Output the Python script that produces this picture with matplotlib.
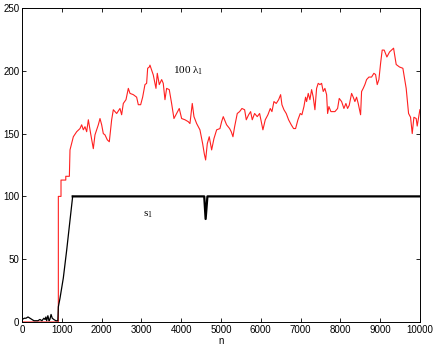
import numpy as np
import matplotlib.pyplot as plt

plt.rcParams['font.family'] = ['Liberation Sans', 'DejaVu Sans']
plt.rcParams['mathtext.fontset'] = 'custom'
plt.rcParams['mathtext.rm'] = 'Liberation Serif'
plt.rcParams['mathtext.it'] = 'Liberation Serif'

# 100*lambda_1 (red)
lam_n = [0, 913, 913, 980, 980, 1100, 1100, 1190, 1206, 1290, 1374, 1457, 1499, 1541,
         1583, 1625, 1667, 1725, 1792, 1834, 1918, 1960, 2002, 2043, 2085, 2144, 2194,
         2253, 2295, 2379, 2462, 2504, 2546, 2613, 2672, 2714, 2797, 2881, 2923, 2982,
         3032, 3090, 3132, 3158, 3199, 3216, 3299, 3367, 3400, 3450, 3510, 3550, 3593,
         3635, 3701, 3760, 3819, 3886, 3952, 4012, 4096, 4178, 4221, 4279, 4322, 4389,
         4472, 4540, 4581, 4615, 4657, 4706, 4766, 4824, 4892, 4975, 5017, 5058, 5142,
         5218, 5259, 5302, 5344, 5410, 5469, 5528, 5595, 5637, 5696, 5746, 5787, 5846,
         5912, 5972, 6013, 6055, 6114, 6181, 6240, 6282, 6332, 6390, 6450, 6500, 6533,
         6583, 6641, 6700, 6767, 6826, 6876, 6935, 6993, 7035, 7086, 7127, 7153, 7194,
         7236, 7279, 7320, 7362, 7404, 7445, 7488, 7530, 7571, 7613, 7656, 7681, 7714,
         7764, 7865, 7932, 7973, 8033, 8091, 8141, 8183, 8224, 8284, 8325, 8367, 8409,
         8450, 8510, 8535, 8576, 8618, 8661, 8719, 8786, 8844, 8887, 8928, 8970, 9013,
         9053, 9103, 9171, 9238, 9339, 9405, 9489, 9573, 9656, 9716, 9766, 9808, 9850,
         9908, 9933, 10000]
lam_v = [0, 0, 100, 100, 113, 113, 116, 116, 137, 147.5, 151.5, 154, 157, 153,
         155.5, 151.5, 161, 150, 138, 149, 157, 162, 157, 150, 149, 145, 143.5,
         161, 169, 166, 170, 165, 174, 177, 186, 182, 181, 179, 173, 173,
         179, 189, 190, 202, 203, 204.5, 196.7, 186, 198, 189, 193, 190, 177,
         186, 185, 174, 162, 166, 170, 162, 161, 159.5, 158, 174, 163.5, 158,
         153, 142, 134, 129, 142, 147.5, 137, 146, 153, 154, 159.5, 163.5, 157,
         154, 151.5, 147.5, 155.5, 166, 167.5, 170, 169, 161, 165, 167.5, 161, 166,
         163.5, 166, 159.5, 153, 161, 165, 170, 167.5, 175.5, 174, 177, 181, 173,
         169, 166, 161, 157, 154, 154, 161, 166, 165, 171.5, 179, 175.5, 182,
         177, 185, 179, 169, 186, 190, 189, 190, 183.5, 186, 181, 166, 171.5,
         167.5, 167.5, 170, 178, 175.5, 170, 174, 170, 172.5, 182, 179, 175.5, 179,
         174, 165, 183.5, 186, 189, 193, 195, 195, 198, 197, 189, 193, 206,
         216.5, 216.5, 211, 215, 218, 205, 203, 202, 186, 166, 163, 150, 163,
         162, 156, 169]

# s_1 (black): noisy start and the ramp, then the plateau at 100
s_n = [0, 60, 100, 150, 200, 250, 300, 350, 400, 450, 500, 550, 580, 600, 620, 650,
       680, 700, 730, 760, 800, 850, 900, 913, 955, 1038, 1122, 1206, 1273]
s_v = [2, 3, 3, 4, 3, 2, 1, 1, 1, 2, 1, 3, 2, 4, 1, 5,
       1, 2, 6, 3, 2, 1, 1, 12, 19, 35, 57, 81, 100]
plateau_n = [1273, 4580, 4615, 4660, 10000]
plateau_v = [100, 100, 82, 100, 100]

fig = plt.figure(figsize=(4.36, 3.46), dpi=100)
ax = fig.add_axes([0.0505, 0.0694, 0.9125, 0.9075])

ax.plot(lam_n, lam_v, color='#ff2020', lw=0.8)
ax.plot(s_n, s_v, color='black', lw=0.9)
ax.plot(plateau_n, plateau_v, color='black', lw=1.6)

ax.set_xlim(0, 10000)
ax.set_ylim(0, 250)
ax.set_xticks(np.arange(0, 10001, 1000))
ax.set_yticks(np.arange(0, 251, 50))
ax.tick_params(direction='in', length=3, width=0.6, labelsize=7,
               top=True, right=True, pad=2)
for s in ax.spines.values():
    s.set_linewidth(0.7)
ax.set_xlabel('n', fontsize=7, labelpad=1)

ax.text(3800, 200, r'$100\ \lambda_1$', fontsize=8, va='center')
ax.text(3050, 85, r'$s_1$', fontsize=8, va='center')

fig.savefig('out.png', dpi=100)
